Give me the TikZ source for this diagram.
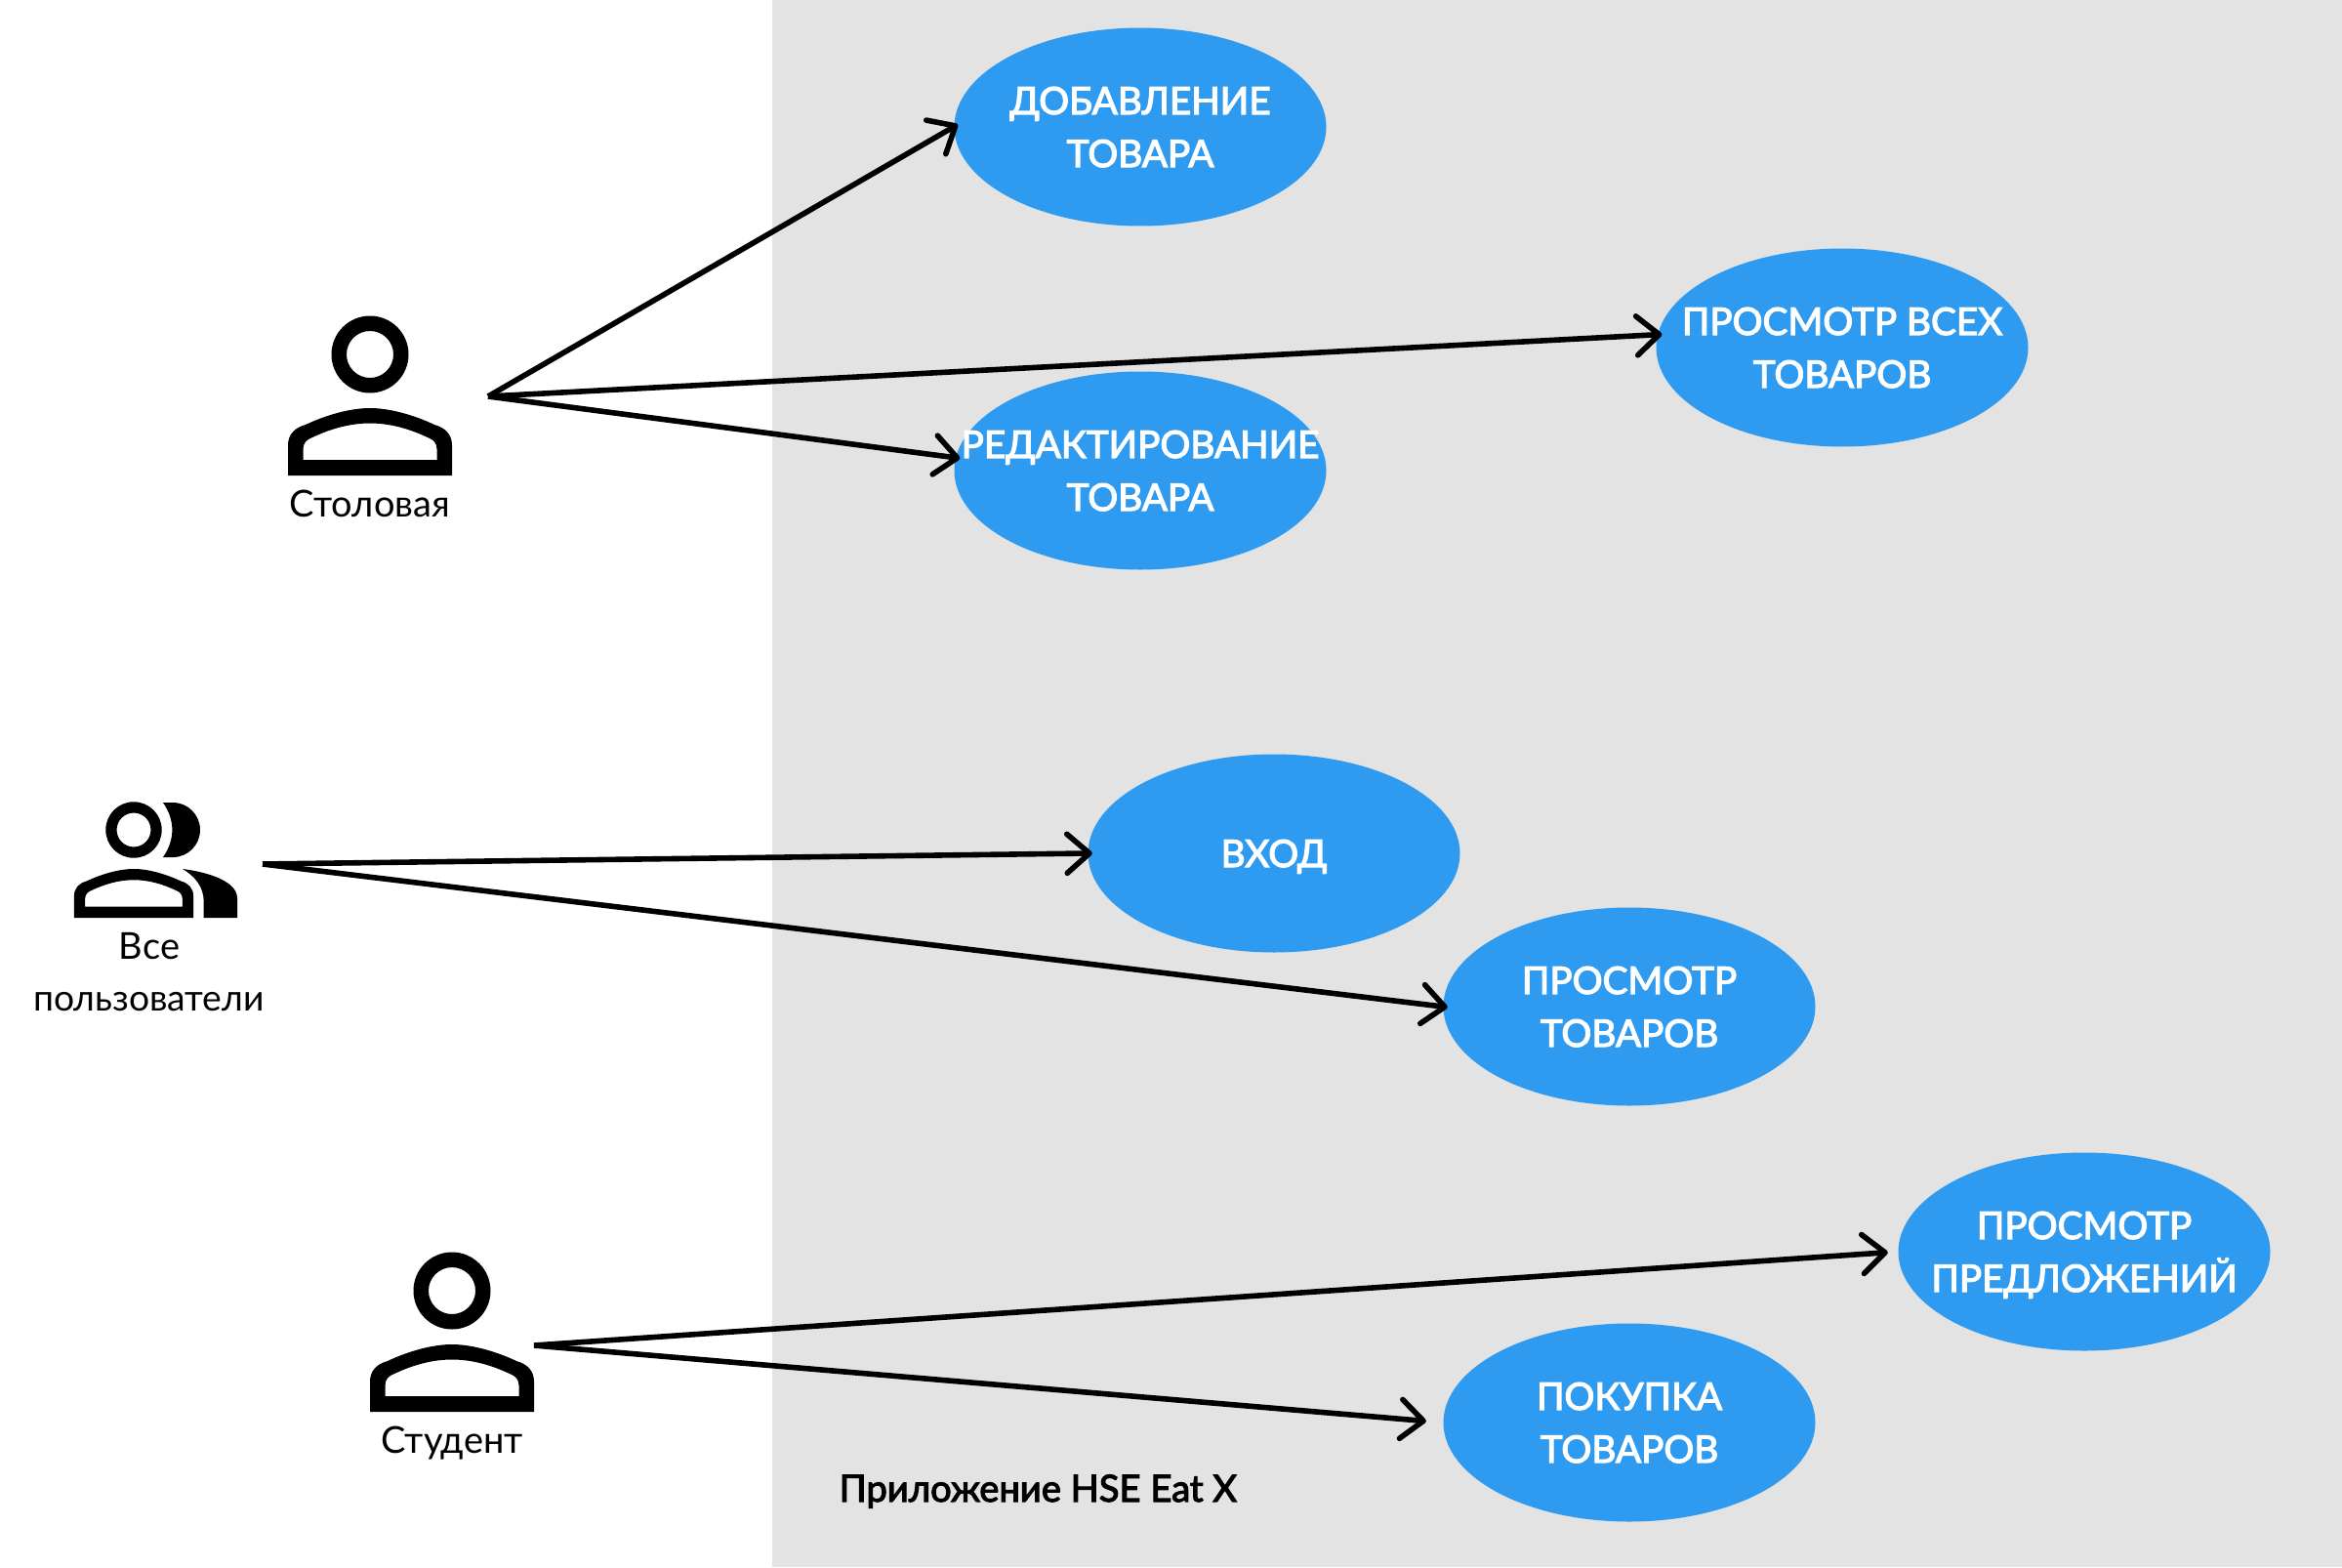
\documentclass[tikz,border=0pt]{standalone}
\usepackage{fontspec}
\setmainfont{Lato}
\newfontfamily\boldishfont[FakeBold=3]{Lato}
\usetikzlibrary{arrows.meta,shapes.geometric}
\pgfdeclarelayer{edgelayer}
\pgfdeclarelayer{nodelayer}
\pgfsetlayers{nodelayer,edgelayer,main}
\definecolor{lblue}{HTML}{2F9BF0}
\definecolor{lgray}{HTML}{E3E3E3}
\tikzstyle{usecase}=[ellipse,fill=lblue,text=white,inner ysep=0pt,inner xsep=-.6cm,minimum width=3.81cm,minimum height=2.03cm,align=center,text depth=-1.7pt,font=\boldishfont\fontsize{11}{15.4}\selectfont]
\tikzstyle{actorlabel}=[anchor=base,inner sep=0pt,font=\fontsize{10.8}{15}\selectfont]
\tikzstyle{applabel}=[anchor=base west,inner sep=0pt,font=\boldishfont\fontsize{10.85}{15}\selectfont]
\tikzstyle{inarrow}=[-{Straight Barb[length=.23cm,width=.4cm,round]},line width=.056cm,shorten >=-.05cm]
\tikzset{
	person/.pic={
		\fill [even odd rule] (0,0) circle (.395) (0,0) circle (.24);
		\fill [even odd rule] (-.84,-1.24) -- (-.84,-.93) .. controls (-.84,-.82) and (-.77,-.75) .. (-.66,-.72)
			.. controls (-.45,-.62) and (-.2,-.55) .. (0,-.55) .. controls (.2,-.55) and (.45,-.62) .. (.66,-.72)
			.. controls (.77,-.75) and (.84,-.82) .. (.84,-.93) -- (.84,-1.24) -- cycle
			(-.685,-1.08) -- (-.685,-.97) .. controls (-.685,-.91) and (-.65,-.87) .. (-.59,-.85)
			.. controls (-.4,-.76) and (-.2,-.705) .. (0,-.705) .. controls (.2,-.705) and (.4,-.76) .. (.59,-.85)
			.. controls (.65,-.87) and (.685,-.91) .. (.685,-.97) -- (.685,-1.08) -- cycle;
	},
	shadowperson/.pic={
		\fill (.3,.28) -- (.4,.28) arc (90:-90:.28) -- (.3,-.28) .. controls (.425,-.1) and (.425,.1) .. cycle;
		\fill (.5,-.4) .. controls (.67,-.42) and (1.06,-.5) .. (1.06,-.7) -- (1.06,-.9) -- (.717,-.9) -- (.717,-.73)
			.. controls (.717,-.58) and (.62,-.47) .. cycle;
	}
}

\begin{document}
\begin{tikzpicture}
	\useasboundingbox (0,0) rectangle (23.99,-16.05);
	\begin{pgfonlayer}{nodelayer}
		\fill [lgray] (7.91,0) rectangle (23.99,-16.05);
		\node [style=usecase] (Add) at (11.68,-1.30) {ДОБАВЛЕНИЕ\\ТОВАРА};
		\node [style=usecase] (Edit) at (11.68,-4.82) {РЕДАКТИРОВАНИЕ\\ТОВАРА};
		\node [style=usecase] (ViewAll) at (18.87,-3.56) {ПРОСМОТР ВСЕХ\\ТОВАРОВ};
		\node [style=usecase] (Login) at (13.05,-8.74) {ВХОД};
		\node [style=usecase] (View) at (16.69,-10.31) {ПРОСМОТР\\ТОВАРОВ};
		\node [style=usecase] (Offers) at (21.35,-12.82) {ПРОСМОТР\\ПРЕДЛОЖЕНИЙ};
		\node [style=usecase] (Buy) at (16.69,-14.57) {ПОКУПКА\\ТОВАРОВ};
		\node [style=applabel] (App) at (8.59,-15.38) {Приложение HSE Eat X};
		\pic at (3.79,-3.63) {person};
		\pic [scale=.727] at (1.37,-8.50) {person};
		\pic at (1.37,-8.50) {shadowperson};
		\pic at (4.63,-13.22) {person};
		\node [style=actorlabel] (Canteen) at (3.79,-5.29) {Столовая};
		\node [style=actorlabel] (All1) at (1.53,-9.82) {Все};
		\node [style=actorlabel, font=\fontsize{10.6}{15}\selectfont] (All2) at (1.525,-10.35) {пользователи};
		\node [style=actorlabel] (Student) at (4.63,-14.88) {Студент};
		\coordinate (CanteenOut) at (5.00,-4.06);
		\coordinate (AllOut) at (2.69,-8.85);
		\coordinate (StudentOut) at (5.47,-13.78);
	\end{pgfonlayer}
	\begin{pgfonlayer}{edgelayer}
		\draw [style=inarrow] (CanteenOut) to (Add.west);
		\draw [style=inarrow] (CanteenOut) to (ViewAll.176);
		\draw [style=inarrow] (CanteenOut) to (Edit.176);
		\draw [style=inarrow] (AllOut) to (Login.west);
		\draw [style=inarrow] (AllOut) to (View.west);
		\draw [style=inarrow, shorten >=.10cm] (StudentOut) to (Offers.west);
		\draw [style=inarrow, shorten >=.17cm] (StudentOut) to (Buy.west);
	\end{pgfonlayer}
\end{tikzpicture}
\end{document}
